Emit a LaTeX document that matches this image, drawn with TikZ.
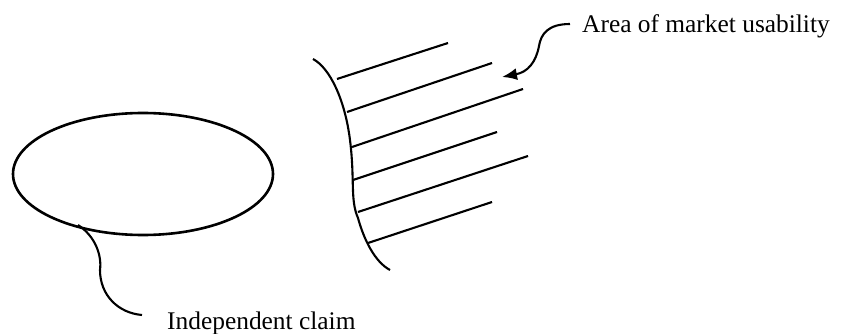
\documentclass[tikz,border=0pt]{standalone}
\usepackage{fontspec}
\setmainfont{Liberation Serif}
\usetikzlibrary{shapes.geometric,arrows.meta}
\begin{document}
\begin{tikzpicture}[x=1pt,y=-1pt,
  ln/.style={line width=2.1pt},
  lbl/.style={font=\fontsize{25.4}{28}\selectfont,inner sep=0pt,anchor=base west}]
\useasboundingbox (0,0) rectangle (841,334);
\node[ellipse,draw,line width=2.6pt,minimum width=260pt,minimum height=122pt,inner sep=0pt] (ell) at (143,174) {};
\node[lbl] (ind) at (167,329) {Independent claim};
\node[lbl] (area) at (582,33) {Area of market usability};
\coordinate (t1) at (78,225);
\coordinate (t2) at (142,315);
\draw[ln] (t1) .. controls (95,236) and (102,255) .. (100,270) .. controls (100,295) and (118,313) .. (t2);
\coordinate (a1) at (570,24);
\coordinate (a2) at (502,77);
\draw[ln,-{Latex[length=15pt,width=12pt]}] (a1) .. controls (548,24) and (541,34) .. (539,46) .. controls (536,62) and (528,72) .. (a2);
% bracket
\coordinate (b0) at (313,59);
\coordinate (s1) at (337,79);
\coordinate (s2) at (347,112);
\coordinate (s3) at (352,147);
\coordinate (s4) at (353,180);
\coordinate (s5) at (358,212);
\coordinate (s6) at (368,243);
\coordinate (b7) at (390,270);
\draw[ln] (b0) .. controls (330,68) and (345,100) .. (350,140) .. controls (355,180) and (350,200) .. (358,218) .. controls (364,240) and (375,262) .. (b7);
\coordinate (e1) at (448,43);
\coordinate (e2) at (492,63);
\coordinate (e3) at (523,89);
\coordinate (e4) at (497,132);
\coordinate (e5) at (528,156);
\coordinate (e6) at (492,202);
\foreach \i in {1,...,6} \draw[ln] (s\i) -- (e\i);
\end{tikzpicture}
\end{document}
